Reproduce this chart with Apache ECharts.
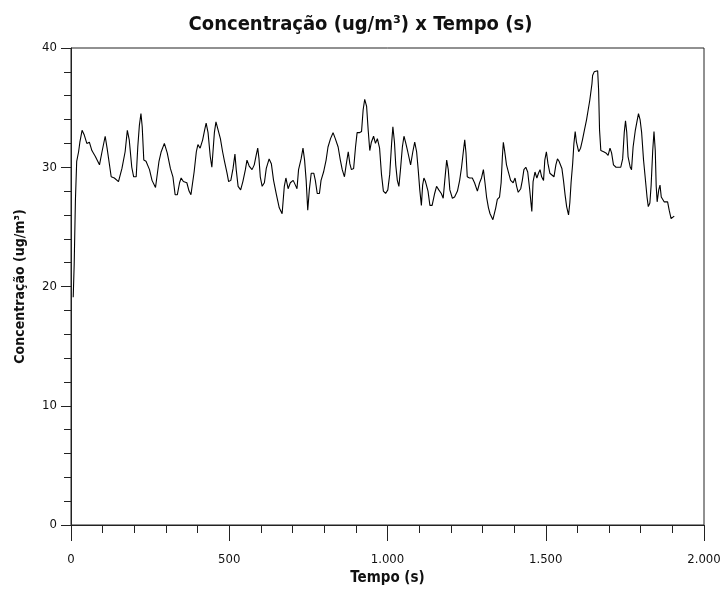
<!DOCTYPE html>
<html>
<head>
<meta charset="utf-8">
<script src="https://cdn.jsdelivr.net/npm/echarts@6/dist/echarts.min.js"></script>
<style>
  html, body { margin: 0; padding: 0; background: #fff; }
  #chart { width: 721px; height: 590px; }
</style>
</head>
<body>
<div id="chart"></div>
<script>
// tempo (s) e concentração (ug/m3)
const tempo = [
  7, 10, 14, 18, 24, 28, 35, 42, 50, 58, 66, 77, 90, 98, 108, 114, 127, 137, 150, 161,
  171, 178, 184, 192, 198, 206, 211, 216, 221, 225, 230, 237, 248, 256, 267, 278, 285, 295, 304, 314,
  322, 329, 336, 343, 348, 355, 366, 373, 379, 385, 389, 396, 401, 408, 416, 422, 427, 433, 440, 445,
  453, 458, 464, 472, 479, 485, 493, 498, 505, 512, 518, 522, 528, 536, 543, 551, 556, 563, 572, 579,
  585, 590, 594, 598, 604, 611, 617, 626, 633, 640, 649, 658, 667, 674, 679, 686, 693, 702, 709, 714,
  719, 727, 733, 738, 743, 748, 753, 759, 767, 772, 778, 785, 790, 798, 806, 812, 820, 828, 835, 844,
  851, 857, 864, 870, 876, 881, 886, 893, 899, 904, 911, 918, 923, 928, 934, 939, 944, 949, 956, 962,
  968, 975, 981, 987, 994, 1001, 1007, 1013, 1017, 1022, 1026, 1031, 1036, 1041, 1047, 1052, 1057, 1064, 1073, 1080,
  1086, 1092, 1097, 1102, 1107, 1111, 1115, 1120, 1128, 1134, 1141, 1149, 1155, 1162, 1170, 1176, 1181, 1187, 1192, 1197,
  1205, 1212, 1221, 1228, 1234, 1240, 1244, 1248, 1252, 1259, 1268, 1275, 1284, 1291, 1297, 1303, 1308, 1313, 1319, 1324,
  1333, 1342, 1347, 1354, 1359, 1363, 1366, 1370, 1376, 1382, 1389, 1397, 1403, 1408, 1413, 1421, 1426, 1431, 1437, 1443,
  1449, 1453, 1456, 1460, 1466, 1472, 1477, 1482, 1487, 1493, 1497, 1502, 1507, 1513, 1519, 1526, 1532, 1537, 1542, 1551,
  1556, 1561, 1566, 1572, 1576, 1580, 1585, 1589, 1593, 1597, 1604, 1610, 1616, 1622, 1629, 1634, 1639, 1646, 1648, 1653,
  1664, 1667, 1670, 1674, 1683, 1690, 1697, 1703, 1708, 1714, 1722, 1729, 1737, 1743, 1748, 1752, 1756, 1760, 1767, 1771,
  1776, 1783, 1788, 1793, 1798, 1803, 1809, 1814, 1820, 1824, 1829, 1833, 1838, 1842, 1846, 1849, 1852, 1857, 1861, 1865,
  1869, 1874, 1880, 1885, 1890, 1896, 1901, 1906
];
const concentracao = [
  19.1, 21.8, 27.3, 30.5, 31.3, 32.1, 33.1, 32.7, 32.0, 32.1, 31.4, 30.9, 30.2, 31.3, 32.6, 31.6, 29.2, 29.1, 28.8, 29.9,
  31.3, 33.1, 32.3, 30.0, 29.2, 29.2, 31.7, 33.5, 34.5, 33.4, 30.6, 30.5, 29.8, 28.9, 28.3, 30.5, 31.3, 32.0, 31.2, 29.9,
  29.2, 27.7, 27.7, 28.7, 29.1, 28.8, 28.7, 28.0, 27.7, 27.7, 29.6, 31.3, 31.9, 31.6, 32.3, 33.1, 33.7, 32.9, 30.9, 30.0,
  32.9, 33.8, 33.7, 32.4, 31.3, 30.5, 29.5, 28.8, 28.9, 29.9, 31.1, 29.8, 28.4, 28.1, 28.8, 29.8, 30.6, 30.1, 29.8, 30.2,
  31.0, 31.6, 30.7, 29.2, 28.4, 28.7, 29.9, 30.7, 30.3, 28.9, 27.7, 26.6, 26.1, 28.4, 29.1, 28.2, 28.7, 28.9, 28.5, 28.2,
  29.8, 30.7, 31.6, 30.6, 28.9, 26.4, 28.1, 29.5, 29.5, 28.9, 27.8, 27.8, 28.9, 29.6, 30.6, 31.7, 32.4, 32.9, 32.4, 31.7,
  30.6, 29.8, 29.2, 30.3, 31.3, 30.3, 29.8, 29.9, 31.7, 32.9, 32.9, 33.0, 34.8, 35.7, 35.1, 33.1, 31.4, 32.1, 32.6, 32.0,
  32.4, 31.6, 29.4, 28.0, 27.8, 28.1, 29.4, 32.0, 33.4, 32.1, 30.2, 28.9, 28.4, 29.8, 31.7, 32.6, 32.1, 31.3, 30.2, 31.3,
  32.1, 31.3, 29.8, 28.1, 26.8, 28.5, 29.1, 28.8, 28.0, 26.8, 26.8, 27.8, 28.4, 28.1, 27.8, 27.4, 28.9, 30.6, 29.8, 28.1,
  27.4, 27.5, 28.0, 28.9, 30.0, 31.4, 32.3, 31.2, 29.2, 29.1, 29.1, 28.7, 28.0, 28.7, 29.1, 29.8, 28.7, 27.5, 26.6, 26.1,
  25.6, 26.6, 27.3, 27.5, 28.7, 30.9, 32.1, 31.4, 30.2, 29.6, 28.9, 28.7, 29.1, 28.4, 27.9, 28.2, 28.9, 29.8, 30.0, 29.6,
  28.2, 27.1, 26.3, 28.8, 29.6, 29.1, 29.5, 29.8, 29.2, 28.9, 30.6, 31.3, 30.3, 29.5, 29.4, 29.2, 30.2, 30.7, 30.5, 29.9,
  28.9, 27.7, 26.7, 26.0, 27.0, 28.7, 30.3, 32.0, 33.0, 32.1, 31.3, 31.6, 32.3, 33.1, 34.0, 34.8, 35.6, 37.0, 37.7, 38.0,
  38.1, 36.5, 33.1, 31.4, 31.3, 31.2, 31.0, 31.6, 31.2, 30.2, 30.0, 30.0, 30.0, 30.7, 32.9, 33.9, 32.9, 30.9, 30.0, 29.8,
  31.7, 33.1, 33.8, 34.5, 34.0, 32.9, 30.6, 29.2, 27.5, 26.7, 27.0, 28.5, 31.4, 33.0, 31.4, 28.4, 27.1, 28.1, 28.5, 27.5,
  27.5, 27.1, 27.0, 27.1, 26.4, 25.7, 25.7, 25.9
];

const fonte = "'DejaVu Sans Condensed', 'DejaVu Sans', sans-serif";
const corTexto = '#111';

const chart = echarts.init(document.getElementById('chart'));

// separador de milhar com ponto (pt-BR)
const fmtMilhar = (v) => String(v).replace(/\B(?=(\d{3})+(?!\d))/g, '.');

const option = {
  animation: false,
  backgroundColor: '#fff',
  title: {
    text: 'Concentração (ug/m³) x Tempo (s)',
    left: 'center',
    top: 10,
    textStyle: {
      fontFamily: fonte,
      fontSize: 20,
      fontWeight: 'bold',
      color: corTexto
    }
  },
  grid: {
    left: 71,
    right: 17,
    top: 48,
    bottom: 65,
    outerBoundsMode: 'none',
    show: true,
    borderColor: '#222',
    borderWidth: 1,
    backgroundColor: '#fff'
  },
  xAxis: {
    type: 'value',
    min: 0,
    max: 2000,
    interval: 500,
    name: 'Tempo (s)',
    nameLocation: 'middle',
    nameGap: 46,
    nameTextStyle: {
      fontFamily: fonte,
      fontSize: 15,
      fontWeight: 'bold',
      color: corTexto
    },
    axisLine: { show: true, onZero: false, lineStyle: { color: '#222', width: 1 } },
    axisTick: { show: true, inside: false, length: 16, lineStyle: { color: '#222' } },
    minorTick: { show: true, splitNumber: 5, length: 8, lineStyle: { color: '#222' } },
    splitLine: { show: false },
    axisLabel: {
      margin: 28,
      fontFamily: fonte,
      fontSize: 13,
      color: corTexto,
      formatter: fmtMilhar
    }
  },
  yAxis: {
    type: 'value',
    min: 0,
    max: 40,
    interval: 10,
    name: 'Concentração (ug/m³)',
    nameLocation: 'middle',
    nameGap: 44,
    nameRotate: 90,
    nameTextStyle: {
      fontFamily: fonte,
      fontSize: 14,
      fontWeight: 'bold',
      color: corTexto
    },
    axisLine: { show: true, lineStyle: { color: '#222', width: 1 } },
    axisTick: { show: true, inside: false, length: 10, lineStyle: { color: '#222' } },
    minorTick: { show: true, splitNumber: 5, length: 7, lineStyle: { color: '#222' } },
    splitLine: { show: false },
    axisLabel: {
      margin: 14,
      fontFamily: fonte,
      fontSize: 13,
      color: corTexto
    }
  },
  series: [
    {
      type: 'line',
      data: tempo.map((t, i) => [t, concentracao[i]]),
      showSymbol: false,
      symbol: 'none',
      lineStyle: { color: '#000', width: 1.1 }
    }
  ]
};

chart.setOption(option);
</script>
</body>
</html>
